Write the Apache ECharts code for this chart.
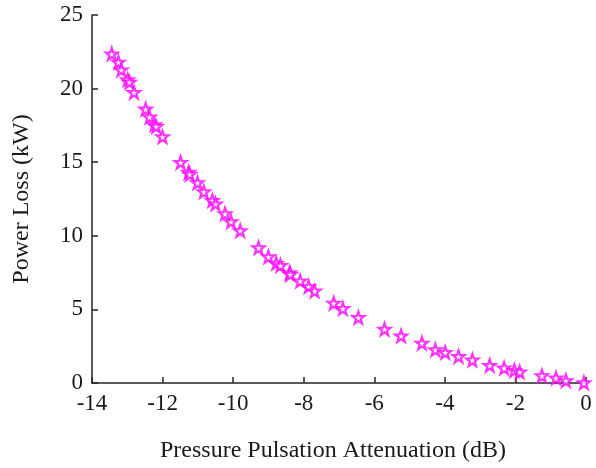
<!DOCTYPE html>
<html><head><meta charset="utf-8">
<script src="https://cdn.jsdelivr.net/npm/echarts@6/dist/echarts.min.js"></script>
<style>html,body{margin:0;padding:0;background:#fff}#c{width:596px;height:468px}</style>
</head><body><div id="c"></div>
<script>
var attenuation = [-13.44,-13.25,-13.17,-12.99,-12.94,-12.81,-12.48,-12.37,-12.23,-12.18,-12.00,-11.49,-11.26,-11.23,-11.01,-10.83,-10.59,-10.50,-10.23,-10.06,-9.80,-9.28,-9.00,-8.78,-8.66,-8.40,-8.38,-8.10,-7.86,-7.69,-7.15,-6.89,-6.45,-5.71,-5.24,-4.65,-4.27,-3.99,-3.61,-3.22,-2.73,-2.32,-2.03,-1.88,-1.25,-0.85,-0.57,-0.06];
var powerLoss = [22.36,21.80,21.27,20.60,20.44,19.74,18.61,18.07,17.55,17.43,16.73,14.99,14.32,14.18,13.60,12.99,12.40,12.17,11.50,10.96,10.35,9.19,8.58,8.13,7.99,7.50,7.38,6.93,6.55,6.25,5.42,5.06,4.45,3.66,3.20,2.71,2.26,2.08,1.81,1.56,1.20,1.02,0.86,0.75,0.49,0.34,0.16,0.02];
var xTicks = [-14,-12,-10,-8,-6,-4,-2,0];
var yTicks = [0,5,10,15,20,25];
var xTitle = 'Pressure Pulsation Attenuation (dB)';
var yTitle = 'Power Loss (kW)';

var pts = attenuation.map(function(x,i){return [x, powerLoss[i]];});
var font = 'Liberation Serif';
var axisCol = '#262626';
var star = 'path://M10,0L12.35,6.76L19.51,6.91L13.8,11.24L15.88,18.09L10,14L4.12,18.09L6.2,11.24L0.49,6.91L7.65,6.76Z';
var chart = echarts.init(document.getElementById('c'), null, {renderer:'canvas'});
chart.setOption({
  animation:false,
  backgroundColor:'#fff',
  grid:{left:92, right:10, top:15, bottom:84},
  xAxis:{
    type:'value', min:xTicks[0], max:xTicks[xTicks.length-1], interval:2,
    name:xTitle, nameLocation:'middle', nameGap:56,
    nameTextStyle:{fontFamily:font, fontSize:24, color:'#1a1a1a', padding:[0,12,0,0]},
    axisLine:{onZero:false, lineStyle:{color:axisCol, width:1.5}},
    axisTick:{inside:true, length:6, lineStyle:{color:axisCol, width:1.5}},
    axisLabel:{fontFamily:font, fontSize:23, color:'#1a1a1a', margin:9},
    splitLine:{show:false}
  },
  yAxis:{
    type:'value', position:'left', min:yTicks[0], max:yTicks[yTicks.length-1], interval:5,
    name:yTitle, nameLocation:'middle', nameGap:58,
    nameTextStyle:{fontFamily:font, fontSize:24, color:'#1a1a1a'},
    axisLine:{show:true, onZero:false, lineStyle:{color:axisCol, width:1.5}},
    axisTick:{show:true, inside:true, length:6, lineStyle:{color:axisCol, width:1.5}},
    axisLabel:{fontFamily:font, fontSize:23, color:'#1a1a1a', margin:9},
    splitLine:{show:false}
  },
  series:[{
    type:'scatter', data:pts, symbol:star, symbolSize:12,
    itemStyle:{color:'#ffffff', borderColor:'#ff00ff', borderWidth:2.2}
  }]
});
</script></body></html>
